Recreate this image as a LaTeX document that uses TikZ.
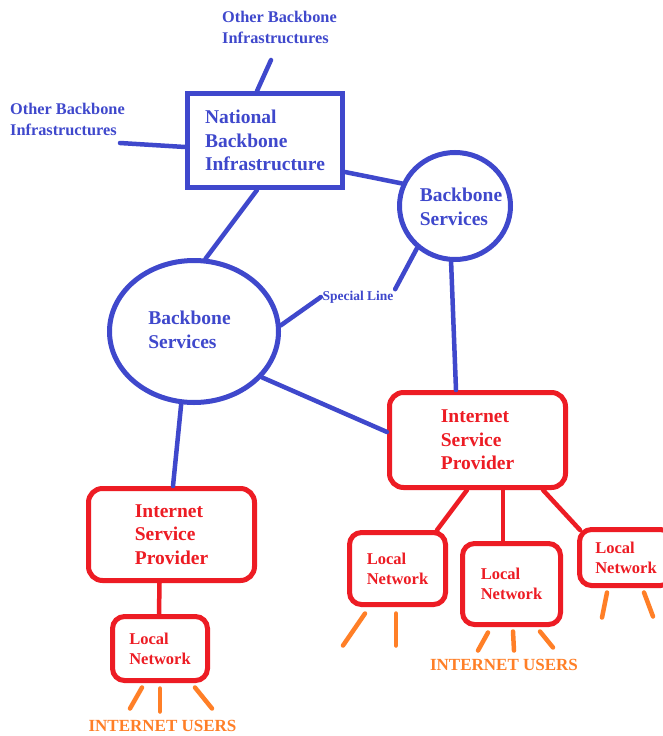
\documentclass[tikz,border=0pt]{standalone}
\usepackage{fontspec}
\setmainfont{Liberation Serif}
\usetikzlibrary{shapes.geometric}
\definecolor{netblue}{RGB}{63,72,204}
\definecolor{netred}{RGB}{237,28,36}
\definecolor{netorange}{RGB}{255,127,39}
\begin{document}
\begin{tikzpicture}[x=1pt,y=-1pt,
  bluelink/.style={draw=netblue,line width=4.5pt,line cap=round},
  redlink/.style={draw=netred,line width=4.5pt,line cap=round},
  userlink/.style={draw=netorange,line width=4.5pt,line cap=round},
  bigfont/.style={font=\bfseries\fontsize{19.5}{23.5}\selectfont},
  bluetext/.style={bigfont,text=netblue,align=left,inner sep=0pt},
  othertext/.style={font=\bfseries\fontsize{16.3}{21}\selectfont,text=netblue,align=left,inner sep=0pt,anchor=west},
  specialtext/.style={font=\bfseries\fontsize{13.5}{16}\selectfont,text=netblue,inner sep=1.5pt},
  natbox/.style={draw=netblue,line width=5pt,rectangle,bluetext},
  bbring/.style={draw=netblue,line width=5pt,ellipse,inner sep=0pt},
  ispbox/.style={draw=netred,line width=5pt,rectangle,rounded corners=14pt,
    bigfont,text=netred,align=left,inner sep=0pt},
  lanbox/.style={draw=netred,line width=5pt,rectangle,rounded corners=12pt,
    font=\bfseries\fontsize{16.5}{20}\selectfont,text=netred,align=left,inner sep=0pt},
  userstext/.style={font=\bfseries\fontsize{17}{20}\selectfont,text=netorange,inner sep=0pt}
]
\clip (0,0) rectangle (663,736);
\fill[white] (0,0) rectangle (663,736);

% backbone layer
\node[natbox,minimum width=155pt,minimum height=94pt] (nat) at (265,140.5)
  {National\\Backbone\\Infrastructure};
\node[bbring,minimum width=111pt,minimum height=107pt] (sc) at (455,206) {};
\node[bluetext] (sctext) at (461,207) {Backbone\\Services};
\node[bbring,minimum width=169pt,minimum height=142pt] (bc) at (194,331.5) {};
\node[bluetext] (bctext) at (189.5,330) {Backbone\\Services};
\node[specialtext] (sl) at (358,297) {Special Line};

\node[othertext] (ot1) at (222,27.5) {Other Backbone\\Infrastructures};
\node[othertext] (ot2) at (10,119.5) {Other Backbone\\Infrastructures};
\coordinate (o1) at (271,60);
\coordinate (o2) at (120,143);

% providers and local networks
\node[ispbox,minimum width=176pt,minimum height=95pt] (ispR) at (477.5,440)
  {Internet\\Service\\Provider};
\node[ispbox,minimum width=166pt,minimum height=92pt] (ispL) at (171.5,534.5)
  {Internet\\Service\\Provider};
\node[lanbox,minimum width=95pt,minimum height=64pt] (locL) at (160,648.5) {Local\\Network};
\node[lanbox,minimum width=96pt,minimum height=72pt] (loc1) at (397.5,568.5) {Local\\Network};
\node[lanbox,minimum width=98pt,minimum height=81pt] (loc2) at (511.5,584) {Local\\Network};
\node[lanbox,minimum width=93pt,minimum height=56pt] (loc3) at (626,557.5) {Local\\Network};

\node[userstext] (usersL) at (162.5,726) {INTERNET USERS};
\node[userstext] (usersR) at (504,665) {INTERNET USERS};

% backbone links
\draw[bluelink] (o1) -- ([xshift=-8pt]nat.north);
\draw[bluelink] (o2) -- ([yshift=-6.5pt]nat.west);
\draw[bluelink] ([yshift=-31.5pt]nat.east) -- (sc.157);
\draw[bluelink] ([xshift=-8pt]nat.south) -- (bc.81);
\draw[bluelink] (bc.4) -- (sl.west);
\draw[bluelink] (sl.north east) -- (sc.228);
\draw[bluelink] (sc.266) -- ([xshift=-21.5pt]ispR.north);
\draw[bluelink] (bc.-34) -- ([yshift=8pt]ispR.west);
\draw[bluelink] (bc.260) -- ([xshift=1.5pt]ispL.north);

% provider links
\draw[redlink] ([xshift=-12pt]ispL.south) -- ([xshift=-1pt]locL.north);
\draw[redlink] ([xshift=-10.5pt]ispR.south) -- ([xshift=39.5pt]loc1.north);
\draw[redlink] ([xshift=25.5pt]ispR.south) -- ([xshift=-8.5pt]loc2.north);
\draw[redlink] ([xshift=65.5pt]ispR.south) -- ([xshift=3pt,yshift=-3pt]loc3.north west);

% user legs
\draw[userlink] ([xshift=-18pt,yshift=-4.5pt]locL.south) -- +(-12,21);
\draw[userlink] ([yshift=-5.5pt]locL.south) -- +(0,23);
\draw[userlink] ([xshift=35pt,yshift=-4.5pt]locL.south) -- +(17,21);
\draw[userlink] ([xshift=-32.5pt,yshift=-6.5pt]loc1.south) -- +(-22,32);
\draw[userlink] ([xshift=-1.5pt,yshift=-6.5pt]loc1.south) -- +(0,32);
\draw[userlink] ([xshift=-23.5pt,yshift=-5.5pt]loc2.south) -- +(-10,18);
\draw[userlink] ([xshift=1.5pt,yshift=-4.5pt]loc2.south) -- +(1,19);
\draw[userlink] ([xshift=28.5pt,yshift=-4.5pt]loc2.south) -- +(13,16);
\draw[userlink] ([xshift=-19pt,yshift=-4.5pt]loc3.south) -- +(-5,25);
\draw[userlink] ([xshift=18pt,yshift=-4.5pt]loc3.south) -- +(9,24);
\end{tikzpicture}
\end{document}
